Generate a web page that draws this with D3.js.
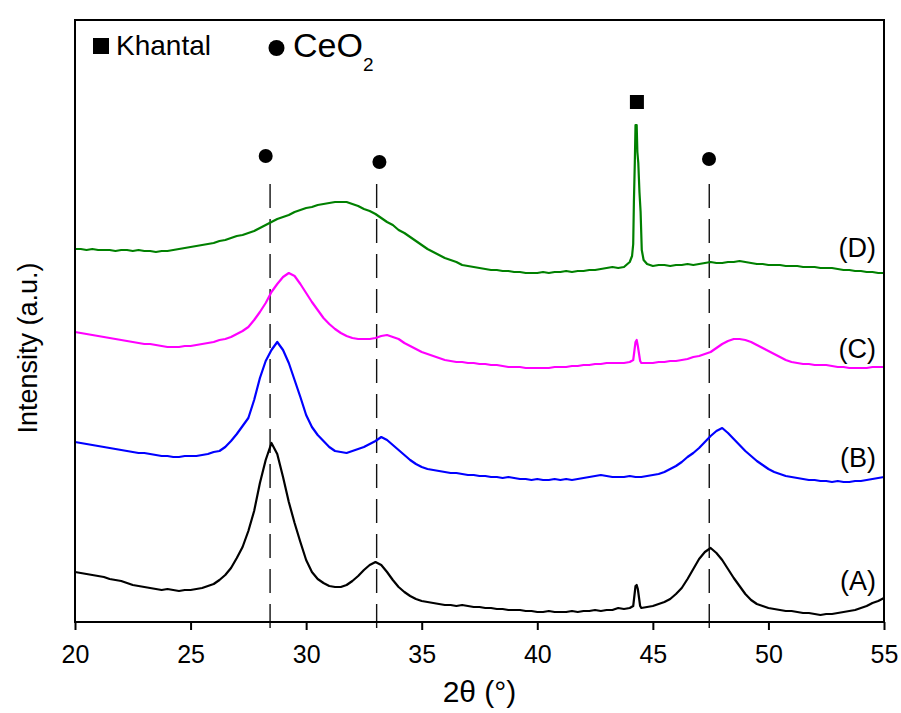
<!DOCTYPE html>
<html>
<head>
<meta charset="utf-8">
<script src="https://cdn.jsdelivr.net/npm/d3@7"></script>
<style>
  body { margin: 0; background: #fff; }
  svg { display: block; }
  text { font-family: "Liberation Sans", Arial, Helvetica, sans-serif; fill: #000; }
</style>
</head>
<body>
<svg id="chart" width="901" height="713"></svg>
<script>
// XRD patterns, stacked; [2θ (°), intensity (a.u.)]
const seriesA = [[20,50],[20.25,49],[20.5,48],[20.75,47],[21,46],[21.25,45],[21.5,43],[21.75,42],[22,41],[22.25,39],[22.5,37],[22.75,36],[23,35],[23.25,34],[23.5,33],[23.75,32],[24,33],[24.25,32],[24.5,31],[24.75,32],[25,32],[25.25,33],[25.5,34],[25.75,36],[26,38],[26.25,42],[26.5,47],[26.75,54],[27,64],[27.25,75],[27.5,91],[27.75,111],[28,139],[28.25,162],[28.5,179],[28.75,168],[29,145],[29.25,120],[29.5,99],[29.75,80],[30,62],[30.25,50],[30.5,43],[30.75,39],[31,36],[31.25,35],[31.5,35],[31.75,37],[32,41],[32.25,46],[32.5,52],[32.75,57],[33,60],[33.25,57],[33.5,50],[33.75,42],[34,35],[34.25,30],[34.5,26],[34.75,23],[35,21],[35.25,20],[35.5,19],[35.75,18],[36,17],[36.25,17],[36.5,16],[36.75,17],[37,16],[37.25,15],[37.5,15],[37.75,14],[38,14],[38.25,13],[38.5,13],[38.75,12],[39,12],[39.25,12],[39.5,11],[39.75,11],[40,10],[40.25,10],[40.5,11],[40.75,10],[41,10],[41.25,10],[41.5,11],[41.75,10],[42,11],[42.25,11],[42.5,12],[42.75,11],[43,12],[43.25,12],[43.5,14],[43.75,13],[44,14],[44.15,16],[44.25,36],[44.3,37],[44.35,33],[44.45,16],[44.5,14],[44.75,15],[45,16],[45.25,18],[45.5,20],[45.75,23],[46,28],[46.25,34],[46.5,43],[46.75,53],[47,63],[47.25,70],[47.5,74],[47.75,69],[48,62],[48.25,53],[48.5,44],[48.75,36],[49,28],[49.25,22],[49.5,18],[49.75,16],[50,14],[50.25,13],[50.5,12],[50.75,11],[51,11],[51.25,10],[51.5,9],[51.75,9],[52,8],[52.25,7],[52.5,8],[52.75,8],[53,9],[53.25,10],[53.5,11],[53.75,12],[54,14],[54.25,16],[54.5,19],[54.75,21],[55,24]];

const seriesB = [[20,180],[20.25,179],[20.5,178],[20.75,177],[21,176],[21.25,175],[21.5,174],[21.75,173],[22,172],[22.25,171],[22.5,170],[22.75,169],[23,169],[23.25,168],[23.5,167],[23.75,166],[24,166],[24.25,165],[24.5,165],[24.75,166],[25,166],[25.25,166],[25.5,167],[25.75,168],[26,170],[26.25,171],[26.5,175],[26.75,181],[27,188],[27.25,196],[27.5,204],[27.75,222],[28,244],[28.25,261],[28.5,272],[28.75,280],[29,272],[29.25,259],[29.5,242],[29.75,225],[30,207],[30.25,195],[30.5,187],[30.75,181],[31,175],[31.25,171],[31.5,170],[31.75,169],[32,171],[32.25,173],[32.5,175],[32.75,178],[33,181],[33.25,185],[33.5,182],[33.75,177],[34,172],[34.25,167],[34.5,162],[34.75,158],[35,155],[35.25,153],[35.5,152],[35.75,151],[36,150],[36.25,149],[36.5,149],[36.75,148],[37,147],[37.25,147],[37.5,146],[37.75,146],[38,145],[38.25,145],[38.5,144],[38.75,145],[39,144],[39.25,143],[39.5,143],[39.75,142],[40,143],[40.25,142],[40.5,142],[40.75,143],[41,142],[41.25,143],[41.5,142],[41.75,143],[42,144],[42.25,145],[42.5,146],[42.75,147],[43,146],[43.25,145],[43.5,145],[43.75,145],[44,146],[44.25,145],[44.5,145],[44.75,146],[45,147],[45.25,148],[45.5,150],[45.75,153],[46,156],[46.25,160],[46.5,165],[46.75,169],[47,174],[47.25,180],[47.5,186],[47.75,191],[48,194],[48.25,189],[48.5,183],[48.75,177],[49,171],[49.25,166],[49.5,161],[49.75,157],[50,153],[50.25,150],[50.5,148],[50.75,146],[51,145],[51.25,144],[51.5,143],[51.75,142],[52,142],[52.25,141],[52.5,141],[52.75,140],[53,141],[53.25,140],[53.5,140],[53.75,141],[54,141],[54.25,142],[54.5,143],[54.75,144],[55,145]];

const seriesC = [[20,290],[20.25,289],[20.5,288],[20.75,287],[21,286],[21.25,285],[21.5,284],[21.75,283],[22,282],[22.25,281],[22.5,280],[22.75,279],[23,278],[23.25,278],[23.5,277],[23.75,276],[24,275],[24.25,275],[24.5,275],[24.75,276],[25,276],[25.25,277],[25.5,278],[25.75,279],[26,280],[26.25,282],[26.5,283],[26.75,285],[27,288],[27.25,291],[27.5,295],[27.75,302],[28,310],[28.25,319],[28.5,330],[28.75,338],[29,345],[29.25,349],[29.5,346],[29.75,338],[30,329],[30.25,320],[30.5,312],[30.75,304],[31,298],[31.25,293],[31.5,289],[31.75,286],[32,284],[32.25,283],[32.5,283],[32.75,283],[33,284],[33.25,286],[33.5,287],[33.75,285],[34,283],[34.25,279],[34.5,276],[34.75,273],[35,270],[35.25,268],[35.5,266],[35.75,264],[36,262],[36.25,261],[36.5,260],[36.75,260],[37,259],[37.25,259],[37.5,258],[37.75,258],[38,257],[38.25,257],[38.5,256],[38.75,255],[39,255],[39.25,255],[39.5,254],[39.75,254],[40,254],[40.25,254],[40.5,254],[40.75,255],[41,255],[41.25,255],[41.5,256],[41.75,256],[42,257],[42.25,257],[42.5,258],[42.75,258],[43,259],[43.25,259],[43.5,259],[43.75,259],[44,260],[44.15,262],[44.25,280],[44.3,282],[44.35,276],[44.45,261],[44.5,259],[44.75,259],[45,259],[45.25,260],[45.5,260],[45.75,261],[46,261],[46.25,262],[46.5,263],[46.75,265],[47,266],[47.25,268],[47.5,270],[47.75,274],[48,278],[48.25,281],[48.5,283],[48.75,283],[49,282],[49.25,280],[49.5,277],[49.75,274],[50,271],[50.25,268],[50.5,265],[50.75,262],[51,260],[51.25,259],[51.5,258],[51.75,258],[52,257],[52.25,257],[52.5,257],[52.75,256],[53,255],[53.25,255],[53.5,254],[53.75,254],[54,254],[54.25,254],[54.5,255],[54.75,255],[55,255]];

const seriesD = [[20,373],[20.25,373],[20.5,372],[20.75,373],[21,372],[21.25,372],[21.5,372],[21.75,371],[22,372],[22.25,372],[22.5,371],[22.75,372],[23,371],[23.25,371],[23.5,370],[23.75,371],[24,371],[24.25,372],[24.5,373],[24.75,374],[25,375],[25.25,376],[25.5,377],[25.75,378],[26,379],[26.25,381],[26.5,382],[26.75,384],[27,386],[27.25,387],[27.5,389],[27.75,391],[28,394],[28.25,397],[28.5,400],[28.75,403],[29,405],[29.25,407],[29.5,410],[29.75,412],[30,414],[30.25,415],[30.5,417],[30.75,418],[31,419],[31.25,420],[31.5,420],[31.75,420],[32,418],[32.25,416],[32.5,413],[32.75,411],[33,408],[33.25,404],[33.5,400],[33.75,397],[34,392],[34.25,389],[34.5,385],[34.75,381],[35,377],[35.25,373],[35.5,370],[35.75,367],[36,364],[36.25,362],[36.5,360],[36.75,357],[37,356],[37.25,355],[37.5,354],[37.75,353],[38,352],[38.25,352],[38.5,351],[38.75,351],[39,350],[39.25,350],[39.5,349],[39.75,349],[40,349],[40.25,350],[40.5,349],[40.75,350],[41,350],[41.25,351],[41.5,350],[41.75,351],[42,351],[42.25,352],[42.5,352],[42.75,353],[43,354],[43.25,355],[43.5,354],[43.75,355],[44,360],[44.1,366],[44.15,378],[44.18,420],[44.22,460],[44.25,497],[44.3,497],[44.33,470],[44.37,459],[44.42,430],[44.47,410],[44.52,372],[44.6,362],[44.75,358],[45,356],[45.25,357],[45.5,357],[45.75,356],[46,357],[46.25,357],[46.5,358],[46.75,357],[47,358],[47.25,359],[47.5,360],[47.75,359],[48,359],[48.25,360],[48.5,360],[48.75,361],[49,360],[49.25,359],[49.5,358],[49.75,358],[50,357],[50.25,357],[50.5,357],[50.75,356],[51,356],[51.25,356],[51.5,355],[51.75,355],[52,355],[52.25,354],[52.5,354],[52.75,354],[53,353],[53.25,352],[53.5,352],[53.75,351],[54,351],[54.25,350],[54.5,350],[54.75,349],[55,349]];

const seriesNames = ["(A)", "(B)", "(C)", "(D)"];
const seriesColors = ["#000000", "#0000ff", "#ff00ff", "#008000"];
const xTicks = [20, 25, 30, 35, 40, 45, 50, 55];

// CeO2 reflections (2θ) with their marker level; Khantal reflection
const ceo2Lines = [28.44, 33.05, 47.44];
const ceo2Marks = [[28.25, 466], [33.17, 460], [47.43, 463]];
const khantalMarks = [[44.31, 520]];

// ---- layout ----
const svg = d3.select("#chart");
const plot = { left: 75, right: 884, top: 20, bottom: 622 };
const x = d3.scaleLinear().domain([20, 55]).range([plot.left, plot.right]);
const y = d3.scaleLinear().domain([0, 602]).range([plot.bottom, plot.top]);
const font = '"Liberation Sans", Arial, Helvetica, sans-serif';

// dashed guides under the CeO2 reflections
svg.append("g")
  .selectAll("line")
  .data(ceo2Lines)
  .join("line")
  .attr("x1", d => x(d)).attr("x2", d => x(d))
  .attr("y1", 184).attr("y2", 629)
  .attr("stroke", "#111")
  .attr("stroke-width", 1.4)
  .attr("stroke-dasharray", "24 11");

// patterns
const line = d3.line().x(d => x(d[0])).y(d => y(d[1]));
const allSeries = [seriesA, seriesB, seriesC, seriesD];
svg.append("g")
  .selectAll("path")
  .data(allSeries)
  .join("path")
  .attr("d", line)
  .attr("fill", "none")
  .attr("stroke", (d, i) => seriesColors[i])
  .attr("stroke-width", 2.2)
  .attr("stroke-linejoin", "round");

// pattern labels at the right edge
const labelBaselines = [590, 467, 358, 257];
svg.append("g")
  .selectAll("text")
  .data(seriesNames)
  .join("text")
  .attr("x", 876)
  .attr("y", (d, i) => labelBaselines[i])
  .attr("text-anchor", "end")
  .attr("font-size", 27)
  .text(d => d);

// reflection markers
svg.append("g")
  .selectAll("circle")
  .data(ceo2Marks)
  .join("circle")
  .attr("cx", d => x(d[0])).attr("cy", d => y(d[1]))
  .attr("r", 7)
  .attr("fill", "#000");
svg.append("g")
  .selectAll("rect")
  .data(khantalMarks)
  .join("rect")
  .attr("x", d => x(d[0]) - 7).attr("y", d => y(d[1]) - 7)
  .attr("width", 14).attr("height", 14)
  .attr("fill", "#000");

// frame
svg.append("rect")
  .attr("x", plot.left).attr("y", plot.top)
  .attr("width", plot.right - plot.left).attr("height", plot.bottom - plot.top)
  .attr("fill", "none")
  .attr("stroke", "#000")
  .attr("stroke-width", 2);

// bottom axis
const xAxis = d3.axisBottom(x).tickValues(xTicks).tickSize(8).tickSizeOuter(0).tickPadding(15)
  .tickFormat(d3.format("d"));
const gx = svg.append("g").attr("transform", `translate(0,${plot.bottom})`).call(xAxis);
gx.select(".domain").remove();
gx.selectAll(".tick line").attr("stroke", "#000").attr("stroke-width", 2);
gx.selectAll(".tick text").attr("font-size", 25).attr("font-family", font).attr("fill", "#000");

// axis titles
svg.append("text")
  .attr("x", (plot.left + plot.right) / 2).attr("y", 702)
  .attr("text-anchor", "middle")
  .attr("font-size", 30)
  .text("2θ (°)");
svg.append("text")
  .attr("transform", "translate(37,348) rotate(-90)")
  .attr("text-anchor", "middle")
  .attr("font-size", 27)
  .text("Intensity (a.u.)");

// legend
const legend = svg.append("g");
legend.append("rect").attr("x", 93).attr("y", 38).attr("width", 16).attr("height", 16).attr("fill", "#000");
legend.append("text").attr("x", 116).attr("y", 55).attr("font-size", 28).text("Khantal");
legend.append("circle").attr("cx", 276.5).attr("cy", 48).attr("r", 8).attr("fill", "#000");
const ceo = legend.append("text").attr("x", 293).attr("y", 57).attr("font-size", 34);
ceo.append("tspan").text("CeO");
ceo.append("tspan").attr("font-size", 19).attr("dy", 14).text("2");
</script>
</body>
</html>
